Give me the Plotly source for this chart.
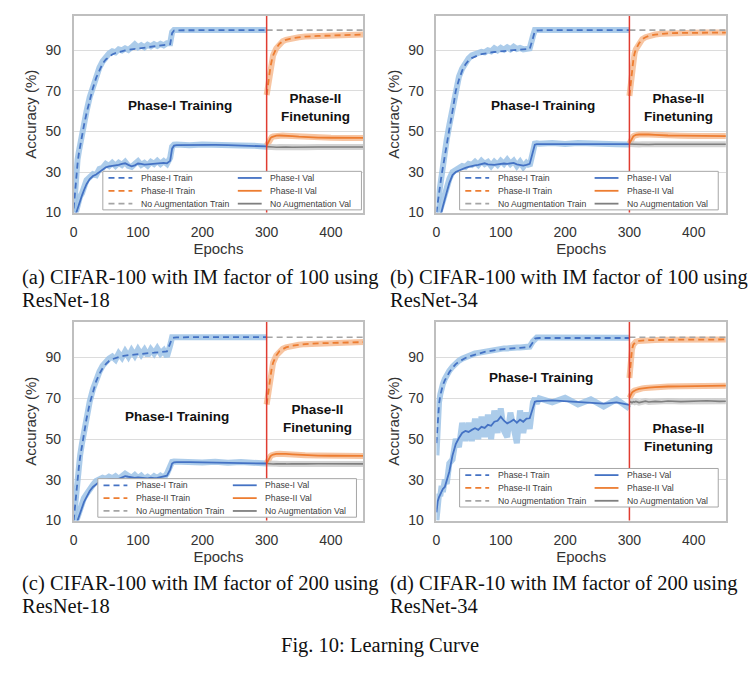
import plotly.graph_objects as go

W, H = 756, 675
PAGE_MARGIN = 8  # default body margin of the html page

# ---------------- data ----------------
P1_EPOCHS = [0, 2, 4, 6, 8, 10, 13, 16, 20, 25, 30, 35, 40, 45, 50, 55, 60, 65, 70, 75,
             80, 85, 90, 95, 100, 105, 110, 115, 120, 125, 130, 135, 140, 145, 150, 153,
             156, 160, 180, 200, 220, 240, 260, 280, 300]
P2_EPOCHS = [300, 302, 304, 306, 308, 310, 315, 320, 325, 330, 340, 350, 360, 380, 400,
             420, 440, 450]

# (a) CIFAR-100, IM 100, ResNet-18
A_TRAIN = [12, 20, 28, 34, 39, 43, 48, 53, 59, 66, 71.5, 76.5, 80.5, 83.5, 85.5, 87, 88, 88.7,
           89.2, 89.6, 90, 90.3, 90.5, 90.8, 91, 91.2, 91.4, 91.6, 91.8, 92, 92.1, 92.3, 92.4,
           92.6, 93, 98.5, 99.8, 99.9, 100, 100, 100, 100, 100, 100, 100]
A_TRAIN_RAW = [10, 22, 30, 36, 40, 44, 49, 54, 60, 67, 72.5, 77.5, 81.5, 84.5, 87, 88.5, 89.5, 89,
               90.5, 90, 91, 90.2, 91.5, 93, 91.5, 92.5, 91.5, 92.8, 92, 93, 92.2, 93.2, 92.5,
               93.5, 93.5, 99, 100, 100, 100, 100, 100, 100, 100, 100, 100]
A_VAL = [6, 8, 10, 12.5, 14.5, 16.5, 18.5, 21, 24, 26.5, 28, 28.8, 30, 31.5, 32.3, 32.8, 33, 33.2,
         33.5, 34, 34.3, 33.5, 32.8, 33.3, 34.2, 34, 33.6, 33.8, 34, 34.2, 34.2, 34.4, 34.5, 34.3,
         35.5, 41.5, 43, 43.3, 43.4, 43.3, 43.4, 43.3, 43, 42.8, 42.6]
A_VAL_RAW = [6, 9, 11, 13, 16, 18, 19.5, 23, 26, 27.5, 29, 28.5, 31.5, 32, 34, 33, 34.5, 33, 34.5,
             33.5, 35, 33, 32.5, 34, 35.3, 33.5, 34.5, 33.2, 35, 34, 35.5, 34, 35.3, 34, 37, 42.5,
             43.5, 43.6, 43.2, 43.6, 43.2, 43.5, 43.1, 43, 42.5]
A_P2_TRAIN = [68, 73, 78, 82, 85, 87.5, 91, 93.3, 94.5, 95.2, 96, 96.5, 96.8, 97.1, 97.4, 97.6, 97.8, 97.8]
A_P2_VAL = [43, 44.5, 45.8, 46.7, 47.2, 47.5, 47.9, 48, 48, 47.9, 47.7, 47.4, 47.2, 47, 46.9, 46.8, 46.8, 46.8]
A_NOAUG_TRAIN = [100, 100, 100, 100, 100, 100, 100, 100, 100, 100, 100, 100, 100, 100, 100, 100, 100, 100]
A_NOAUG_VAL = [42.5, 42.4, 42.3, 42.3, 42.2, 42.3, 42.2, 42.3, 42.2, 42.3, 42.2, 42.3, 42.2, 42.3, 42.3, 42.2, 42.3, 42.3]

# (b) CIFAR-100, IM 100, ResNet-34
B_TRAIN = [10, 14, 19, 24, 28.5, 32.5, 38, 44, 51, 60, 70, 75.5, 80, 83, 85, 86.2, 87, 87.6, 88.1,
           88.5, 88.8, 89, 89.2, 89.4, 89.6, 89.8, 89.9, 90, 90.1, 90.2, 90.3, 90.4, 90.5, 90.7, 96,
           99.5, 99.8, 99.9, 100, 100, 100, 100, 100, 100, 100]
B_TRAIN_RAW = [10, 15, 21, 26, 30, 34, 40, 46, 53, 62, 71, 77, 81, 84, 86, 87.5, 88, 88.5, 89.3, 89,
               90, 89.5, 91, 90, 91.2, 90.3, 91.5, 90.5, 91.8, 90.7, 91.2, 90.5, 91, 91, 97, 100, 100,
               100, 100, 100, 100, 100, 100, 100, 100]
B_VAL = [5, 6, 7.5, 9, 10.5, 13, 16, 20, 24.5, 28.5, 30, 30.8, 31.5, 32, 32.5, 33, 33.3, 33.5, 34,
         34.3, 33.8, 33.5, 33.5, 33.8, 34, 34.2, 34, 34.3, 34.5, 33.8, 33.5, 33.2, 33.5, 34, 40, 43.5,
         43.8, 43.8, 43.9, 44, 44, 44, 43.9, 43.8, 43.8]
B_VAL_RAW = [5, 7, 9, 10.5, 12, 15, 18, 22, 26.5, 30, 31, 32, 33, 32.5, 34, 33.5, 35, 33.5, 35.5, 34,
             35, 33, 35, 33.5, 35.5, 34, 36, 34, 35.5, 33, 35, 32.5, 34.5, 33, 42, 44, 44.2, 44, 44.3,
             43.8, 44.3, 43.9, 44.2, 43.7, 43.6]
B_P2_TRAIN = [67.5, 74, 80, 85, 88.5, 90.5, 93.5, 95.5, 96.5, 97.1, 97.8, 98.2, 98.4, 98.6, 98.7, 98.8, 98.8, 98.8]
B_P2_VAL = [44, 45.5, 46.8, 47.6, 48, 48.3, 48.5, 48.6, 48.6, 48.5, 48.3, 48.1, 48, 47.9, 47.8, 47.8, 47.7, 47.7]
B_NOAUG_TRAIN = [100, 100, 100, 100, 100, 100, 100, 100, 100, 100, 100, 100, 100, 100, 100, 100, 100, 100]
B_NOAUG_VAL = [43.8, 43.7, 43.7, 43.8, 43.7, 43.7, 43.6, 43.7, 43.7, 43.6, 43.7, 43.7, 43.6, 43.7, 43.7, 43.6, 43.7, 43.7]

# (c) CIFAR-100, IM 200, ResNet-18
C_TRAIN = [10, 17, 25, 31, 36, 41, 47, 53, 60, 67.5, 73.5, 78.5, 82, 84.8, 86.8, 88.3, 89.2, 89.8,
           90.3, 90.7, 91, 91.2, 91.4, 91.6, 91.8, 92, 92.1, 92.2, 92.3, 92.4, 92.5, 92.6, 92.7, 93,
           97, 99.5, 99.8, 99.9, 100, 100, 100, 100, 100, 100, 100]
C_TRAIN_RAW = [10, 18, 26, 32, 37, 42, 48, 54, 61, 68.5, 74.5, 79.5, 83, 86, 88, 89.5, 90.5, 89, 92,
               90, 93, 90.5, 93.5, 91, 94, 91.5, 93.8, 91, 94, 92, 94.5, 92, 93.5, 90.5, 96, 100, 100,
               100, 100, 100, 100, 100, 100, 100, 100]
C_VAL = [6, 7, 8.5, 10, 12, 14, 16.5, 19, 21.5, 24.5, 26.5, 28, 29, 29.5, 30, 30.3, 30.5, 30.3, 30.5,
         31, 31.8, 31.5, 31.2, 31, 31.2, 31, 30.8, 30.7, 31, 30.8, 31, 31.3, 31.5, 32, 35, 38, 38.6,
         38.7, 38.7, 38.6, 38.6, 38.5, 38.4, 38.2, 38]
C_VAL_RAW = [6, 8, 10, 12, 14, 16, 18, 21, 23, 26, 27.5, 29.5, 30, 31, 30.5, 31.5, 30.8, 31.8, 30.5,
             32, 33, 32, 31, 32.3, 30.8, 32, 30.5, 31.5, 30.5, 31.8, 30.8, 32, 31, 33, 36, 38.8, 39,
             38.9, 39, 38.5, 38.9, 38.4, 38.7, 38.1, 38]
C_P2_TRAIN = [67, 72, 77, 81.5, 85, 87.5, 91, 93.2, 94.3, 95, 95.8, 96.3, 96.6, 97, 97.2, 97.4, 97.5, 97.6]
C_P2_VAL = [38, 39.5, 40.8, 41.6, 42.1, 42.4, 42.7, 42.8, 42.8, 42.7, 42.5, 42.3, 42.1, 41.9, 41.8, 41.7, 41.7, 41.7]
C_NOAUG_TRAIN = [100, 100, 100, 100, 100, 100, 100, 100, 100, 100, 100, 100, 100, 100, 100, 100, 100, 100]
C_NOAUG_VAL = [38, 37.9, 37.9, 38, 37.9, 37.8, 37.9, 37.8, 37.9, 37.8, 37.9, 37.8, 37.8, 37.9, 37.8, 37.8, 37.9, 37.8]

# (d) CIFAR-10, IM 200, ResNet-34
D_TRAIN = [48, 60, 67, 71.5, 74.5, 76.5, 78.8, 80.8, 82.8, 85, 86.8, 88, 89, 89.8, 90.5, 91, 91.5,
           92, 92.4, 92.8, 93.1, 93.4, 93.6, 93.8, 94, 94.2, 94.4, 94.5, 94.6, 94.7, 94.8, 94.9, 95,
           95.2, 97.5, 99.3, 99.5, 99.6, 99.6, 99.6, 99.6, 99.6, 99.6, 99.6, 99.6]
D_TRAIN_RAW = [42, 61, 68, 72, 75.5, 77, 79.5, 81.5, 83.5, 85.5, 87.5, 88.5, 89.5, 90.3, 91, 91.3,
               92, 92.3, 92.6, 93.3, 93.2, 93.7, 93.8, 94.2, 94.1, 94.5, 94.5, 94.8, 94.7, 95, 94.9,
               95.2, 95.1, 95.4, 98, 99.6, 99.8, 99.8, 99.7, 99.8, 99.7, 99.8, 99.7, 99.8, 99.7]
D_VAL = [14, 19.5, 21.5, 23, 24.5, 25.5, 26.5, 29.5, 34, 42, 47.5, 50.5, 53, 54, 53.5, 54.5, 55.3,
         54.5, 56, 55.5, 57, 56.5, 58.5, 59, 61, 59, 57.7, 58.5, 59.5, 58, 59.5, 58.5, 60, 60.2, 66,
         68.3, 68.6, 68.6, 69, 68.6, 68.2, 67.8, 67.4, 68, 66.8]
D_VAL_RAW = [10, 20, 23, 22, 27, 24, 30, 28, 38, 40, 50, 46, 58, 49, 58, 49, 60, 50, 61, 51, 62, 50,
             64, 53, 65, 54, 51, 63, 54, 48, 64, 53, 63, 55, 68, 70, 67.5, 70, 68, 70.3, 67, 69.5,
             66, 69.5, 65]
D_P2_TRAIN = [80, 89, 94, 96.3, 97.3, 97.8, 98.2, 98.4, 98.5, 98.6, 98.6, 98.7, 98.7, 98.8, 98.8, 98.8, 98.9, 98.9]
D_P2_VAL = [70.2, 71.8, 72.8, 73.4, 73.8, 74.1, 74.6, 74.9, 75.1, 75.3, 75.5, 75.7, 75.8, 75.9, 76, 76.1, 76.2, 76.2]
D_NOAUG_TRAIN = [100, 100, 100, 100, 100, 100, 100, 100, 100, 100, 100, 100, 100, 100, 100, 100, 100, 100]
D_NOAUG_VAL = [68, 68.3, 67.8, 68.4, 68.1, 68.5, 67.9, 68.3, 68.6, 68.2, 68.5, 68.3, 68.7, 68.4, 68.6, 68.8, 68.5, 68.6]

X_TICKS = [0, 100, 200, 300, 400]
Y_TICKS = [10, 30, 50, 70, 90]
PHASE_SPLIT = 300

LEGEND_LABELS = ["Phase-I Train", "Phase-I Val", "Phase-II Train", "Phase-II Val",
                 "No Augmentation Train", "No Augmentation Val"]

CAPTIONS = [
    "(a) CIFAR-100 with IM factor of 100 using", "ResNet-18",
    "(b) CIFAR-100 with IM factor of 100 using", "ResNet-34",
    "(c) CIFAR-100 with IM factor of 200 using", "ResNet-18",
    "(d) CIFAR-10 with IM factor of 200 using", "ResNet-34",
]
FIG_CAPTION = "Fig. 10: Learning Curve"

# ---------------- style ----------------
SANS = "Liberation Sans, Arial, sans-serif"
SERIF = "Liberation Serif, Times New Roman, serif"
BLUE = "#4472C4"
BLUE_BAND = "rgba(157,195,230,0.85)"
ORANGE = "#ED7D31"
ORANGE_BAND = "rgba(244,177,131,0.75)"
GRAY_DASH = "#A5A5A5"
GRAY_LINE = "#7F7F7F"
GRAY_BAND = "rgba(200,200,200,0.8)"
RED = "#E03C31"
BORDER = "#BFBFBF"
GRID = "#DCDCDC"
DASH = "6px,4px"
LEGEND_STYLE = [(BLUE, DASH), (BLUE, "solid"), (ORANGE, DASH), (ORANGE, "solid"),
                (GRAY_DASH, DASH), (GRAY_LINE, "solid")]

PANELS = [
    dict(p1=(A_TRAIN, A_TRAIN_RAW, A_VAL, A_VAL_RAW), p2=(A_P2_TRAIN, A_P2_VAL, A_NOAUG_TRAIN, A_NOAUG_VAL),
         box=(70, 16, 361, 215), yr=[10, 107], leg=(99.3, 173.3),
         t1=(165, 62.6), t2=(376, 61.7)),
    dict(p1=(B_TRAIN, B_TRAIN_RAW, B_VAL, B_VAL_RAW), p2=(B_P2_TRAIN, B_P2_VAL, B_NOAUG_TRAIN, B_NOAUG_VAL),
         box=(434.7, 16, 725.7, 215), yr=[10, 107], leg=(458, 173.3),
         t1=(165, 62.6), t2=(376, 61.7)),
    dict(p1=(C_TRAIN, C_TRAIN_RAW, C_VAL, C_VAL_RAW), p2=(C_P2_TRAIN, C_P2_VAL, C_NOAUG_TRAIN, C_NOAUG_VAL),
         box=(70, 325.7, 361, 526.7), yr=[10, 107.5], leg=(94.3, 484.3),
         t1=(160, 61.3), t2=(379, 60)),
    dict(p1=(D_TRAIN, D_TRAIN_RAW, D_VAL, D_VAL_RAW), p2=(D_P2_TRAIN, D_P2_VAL, D_NOAUG_TRAIN, D_NOAUG_VAL),
         box=(434.7, 325.7, 725.7, 526.7), yr=[10, 107.5], leg=(458, 474),
         t1=(163, 80.3), t2=(376, 50.8)),
]


def px(x):
    return (x - PAGE_MARGIN) / W


def py(y):
    return 1 - (y - PAGE_MARGIN) / H


fig = go.Figure()
shapes = []
annotations = []
layout_axes = {}

for i, p in enumerate(PANELS):
    n = "" if i == 0 else str(i + 1)
    xa, ya = "x" + n, "y" + n
    tr, tr_raw, va, va_raw = p["p1"]
    t2, v2, nt, nv = p["p2"]

    def add(x, y, color, width, dash="solid"):
        fig.add_trace(go.Scatter(x=x, y=y, mode="lines", xaxis=xa, yaxis=ya,
                                 line=dict(color=color, width=width, dash=dash),
                                 showlegend=False, hoverinfo="skip"))

    # light raw bands
    add(P1_EPOCHS, tr_raw, BLUE_BAND, 6)
    add(P1_EPOCHS, va_raw, BLUE_BAND, 6)
    add(P2_EPOCHS, t2, ORANGE_BAND, 6)
    add(P2_EPOCHS, v2, ORANGE_BAND, 6)
    add(P2_EPOCHS, nv, GRAY_BAND, 6)
    # main lines
    add(P2_EPOCHS, nt, GRAY_DASH, 1.6, DASH)
    add(P2_EPOCHS, nv, GRAY_LINE, 1.6)
    add(P1_EPOCHS, tr, BLUE, 1.8, DASH)
    add(P1_EPOCHS, va, BLUE, 1.8)
    add(P2_EPOCHS, t2, ORANGE, 1.8, DASH)
    add(P2_EPOCHS, v2, ORANGE, 1.8)

    x0, y0, x1, y1 = p["box"]
    layout_axes["xaxis" + n] = dict(
        domain=[px(x0), px(x1)], anchor=ya, range=[0, 450], tickvals=X_TICKS,
        showgrid=False, zeroline=False, showline=True, mirror=True, linecolor=BORDER,
        linewidth=1.5, ticks="", ticklabelstandoff=6,
        tickfont=dict(family=SANS, size=14, color="#333333"),
        title=dict(text="Epochs", font=dict(family=SANS, size=15, color="#333333"), standoff=2))
    layout_axes["yaxis" + n] = dict(
        domain=[py(y1), py(y0)], anchor=xa, range=p["yr"], tickvals=Y_TICKS,
        showgrid=True, gridcolor=GRID, gridwidth=1, zeroline=False, showline=True, mirror=True,
        linecolor=BORDER, linewidth=1.5, ticks="", ticklabelstandoff=8,
        tickfont=dict(family=SANS, size=14, color="#333333"),
        title=dict(text="Accuracy (%)", font=dict(family=SANS, size=15, color="#333333"), standoff=5))

    # phase split line
    shapes.append(dict(type="line", xref=xa, yref=ya + " domain", x0=PHASE_SPLIT, x1=PHASE_SPLIT,
                       y0=0, y1=1, line=dict(color=RED, width=1.5), layer="above"))

    # phase labels
    annotations.append(dict(xref=xa, yref=ya, x=p["t1"][0], y=p["t1"][1], showarrow=False,
                            text="<b>Phase-I Training</b>",
                            font=dict(family=SANS, size=13.5, color="#111111")))
    annotations.append(dict(xref=xa, yref=ya, x=p["t2"][0], y=p["t2"][1], showarrow=False,
                            text="<b>Phase-II</b><br><b>Finetuning</b>", align="center",
                            font=dict(family=SANS, size=13.5, color="#111111")))

    # legend box (two columns x three rows)
    lx, ly = p["leg"]
    shapes.append(dict(type="rect", xref="paper", yref="paper", x0=px(lx), x1=px(lx + 260),
                       y0=py(ly + 39), y1=py(ly), fillcolor="white",
                       line=dict(color="#A6A6A6", width=1), layer="above"))
    for k, label in enumerate(LEGEND_LABELS):
        row, col = k // 2, k % 2
        color, dash = LEGEND_STYLE[k]
        yy = ly + 6.7 + 13 * row
        lx0 = lx + (5.7 if col == 0 else 135.7)
        shapes.append(dict(type="line", xref="paper", yref="paper", x0=px(lx0), x1=px(lx0 + 24),
                           y0=py(yy), y1=py(yy), line=dict(color=color, width=1.8, dash=dash),
                           layer="above"))
        annotations.append(dict(xref="paper", yref="paper", x=px(lx0 + 30.5), y=py(yy),
                                xanchor="left", yanchor="middle", showarrow=False, text=label,
                                font=dict(family=SANS, size=8.7, color="#404040")))

# captions
cap_pos = [(16, 281), (16, 304), (386, 281), (386, 304), (16, 590), (16, 613), (386, 590), (386, 613)]
for text, (cx, cy) in zip(CAPTIONS, cap_pos):
    annotations.append(dict(xref="paper", yref="paper", x=px(cx), y=py(cy), xanchor="left",
                            yanchor="middle", showarrow=False, text=text,
                            font=dict(family=SERIF, size=20.5, color="#111111")))
annotations.append(dict(xref="paper", yref="paper", x=px(378), y=py(653), xanchor="center",
                        yanchor="middle", showarrow=False, text=FIG_CAPTION,
                        font=dict(family=SERIF, size=20.5, color="#111111")))

fig.update_layout(width=W, height=H, margin=dict(l=0, r=0, t=0, b=0),
                  paper_bgcolor="white", plot_bgcolor="white", showlegend=False,
                  shapes=shapes, annotations=annotations, **layout_axes)

fig.write_html("out.html")
